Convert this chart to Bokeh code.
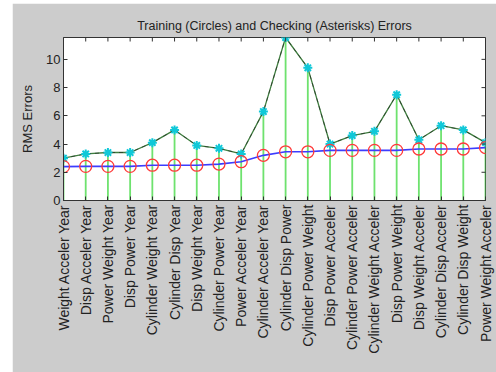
from math import pi

from bokeh.embed import file_html
from bokeh.layouts import column, row
from bokeh.models import FixedTicker, Range1d, Spacer
from bokeh.plotting import figure
from bokeh.resources import INLINE

# Input combinations, ordered by training error
combos = [
    "Weight Acceler Year", "Disp Acceler Year", "Power Weight Year",
    "Disp Power Year", "Cylinder Weight Year", "Cylinder Disp Year",
    "Disp Weight Year", "Cylinder Power Year", "Power Acceler Year",
    "Cylinder Acceler Year", "Cylinder Disp Power", "Cylinder Power Weight",
    "Disp Power Acceler", "Cylinder Power Acceler", "Cylinder Weight Acceler",
    "Disp Power Weight", "Disp Weight Acceler", "Cylinder Disp Acceler",
    "Cylinder Disp Weight", "Power Weight Acceler",
]
trn_error = [2.40, 2.42, 2.42, 2.42, 2.50, 2.50, 2.50, 2.58, 2.75, 3.20,
             3.45, 3.45, 3.55, 3.55, 3.55, 3.55, 3.65, 3.65, 3.65, 3.75]
chk_error = [3.0, 3.3, 3.4, 3.4, 4.1, 5.0, 3.9, 3.7, 3.3, 6.3,
             11.55, 9.4, 4.0, 4.6, 4.9, 7.5, 4.3, 5.3, 5.0, 4.1]
y_ticks = [0, 2, 4, 6, 8, 10]

idx = list(range(1, len(combos) + 1))
zeros = [0] * len(idx)
x_end = len(combos)
y_end = max(chk_error)
GRAY = "#cccccc"
INK = "#222222"
FONT = "Liberation Sans"

p = figure(
    width=484, height=369,
    x_range=Range1d(1, x_end), y_range=Range1d(0, y_end),
    output_backend="svg", toolbar_location=None,
    title="Training (Circles) and Checking (Asterisks) Errors",
    min_border_left=51, min_border_right=11, min_border_top=34,
    min_border_bottom=172,
)
p.background_fill_color = "white"
p.border_fill_color = GRAY
p.outline_line_color = "#333333"
p.outline_line_width = 1
p.grid.visible = False

p.title.align = "center"
p.title.text_font = FONT
p.title.text_font_size = "12.5px"
p.title.text_font_style = "normal"
p.title.text_color = INK
p.title.offset = 12

# stems from zero up to each checking error
p.segment(x0=idx, y0=zeros, x1=idx, y1=chk_error,
          line_color="#55dd55", line_width=1.8, line_alpha=0.85)

# checking error curve
p.line(idx, chk_error, line_color="#3f7f3f", line_width=1.3)
p.line(idx, chk_error, line_color=INK, line_width=1.0,
       line_dash="4 4", line_alpha=0.6)
p.scatter(idx, chk_error, marker="asterisk", size=9,
          line_color="#10c8d8", line_width=2)

# training error curve
p.line(idx, trn_error, line_color="#3c3cff", line_width=1.6)
p.scatter(idx, trn_error, marker="circle", size=12, fill_color=None,
          line_color="#ff3a3a", line_width=1.3)

# inward tick marks along the top and right edges of the box
# (markers are clipped by the frame, so only the inner half shows)
p.scatter(idx, [y_end] * len(idx), marker="dash", angle=pi / 2, size=8,
          line_color="#333333", line_width=1)
p.scatter([x_end] * len(y_ticks), y_ticks, marker="dash", size=8,
          line_color="#333333", line_width=1)


def style_axis(ax):
    ax.major_tick_in = 4
    ax.major_tick_out = 0
    ax.minor_tick_line_color = None
    ax.major_tick_line_color = "#333333"
    ax.axis_line_color = "#333333"
    ax.major_label_text_font = FONT
    ax.major_label_text_color = INK


xa = p.xaxis[0]
style_axis(xa)
xa.ticker = FixedTicker(ticks=idx)
xa.major_label_overrides = {i: name for i, name in zip(idx, combos)}
xa.major_label_orientation = pi / 2
xa.major_label_text_font_size = "14px"
xa.major_label_standoff = 4

ya = p.yaxis[0]
style_axis(ya)
ya.ticker = FixedTicker(ticks=y_ticks)
ya.major_label_text_font_size = "13px"
ya.major_label_standoff = 3
ya.axis_label = "RMS Errors"
ya.axis_label_text_font = FONT
ya.axis_label_text_font_size = "13px"
ya.axis_label_text_font_style = "normal"
ya.axis_label_text_color = INK
ya.axis_label_standoff = 8

page = column(Spacer(height=3), row(Spacer(width=12), p))
page.background = "white"

open("out.html", "w").write(file_html(page, INLINE))
